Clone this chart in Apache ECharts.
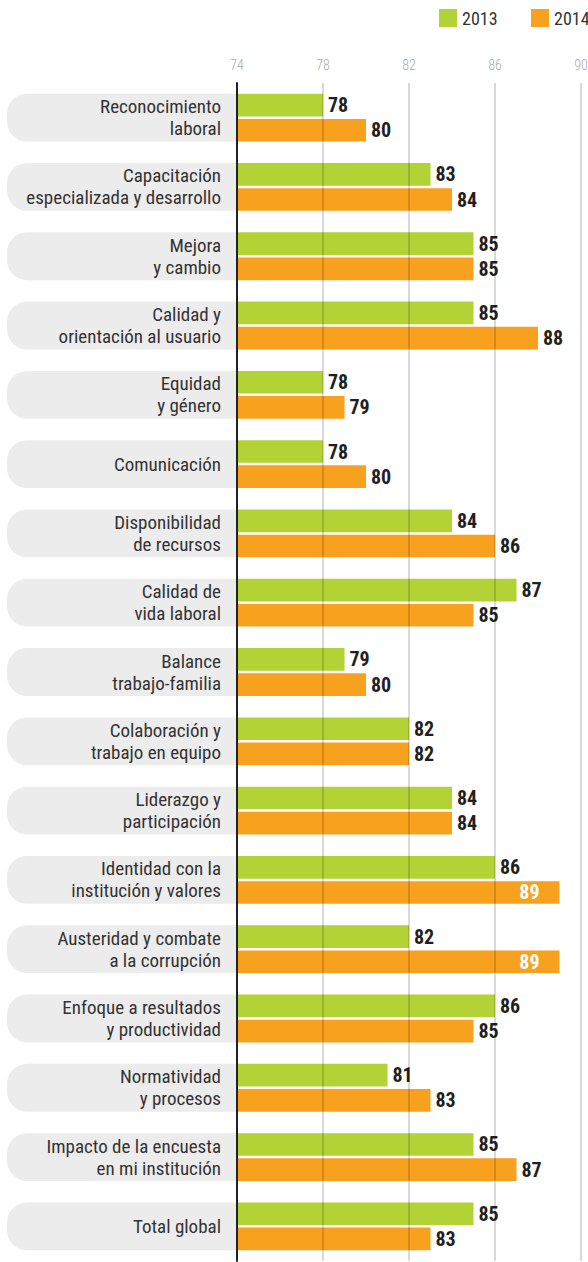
<!DOCTYPE html>
<html><head><meta charset="utf-8">
<script src="https://cdn.jsdelivr.net/npm/echarts@6/dist/echarts.min.js"></script>
<style>html,body{margin:0;padding:0;background:#fff}#c{width:588px;height:1262px}</style>
</head><body><div id="c"></div>
<script>
const categories = [
  "Reconocimiento\nlaboral", "Capacitación\nespecializada y desarrollo", "Mejora\ny cambio",
  "Calidad y\norientación al usuario", "Equidad\ny género", "Comunicación",
  "Disponibilidad\nde recursos", "Calidad de\nvida laboral", "Balance\ntrabajo-familia",
  "Colaboración y\ntrabajo en equipo", "Liderazgo y\nparticipación", "Identidad con la\ninstitución y valores",
  "Austeridad y combate\na la corrupción", "Enfoque a resultados\ny productividad", "Normatividad\ny procesos",
  "Impacto de la encuesta\nen mi institución", "Total global"
];
const values2013 = [78, 83, 85, 85, 78, 78, 84, 87, 79, 82, 84, 86, 82, 86, 81, 85, 85];
const values2014 = [80, 84, 85, 88, 79, 80, 86, 85, 80, 82, 84, 89, 89, 85, 83, 87, 83];
const seriesNames = ["2013", "2014"];
const axisMin = 74, axisMax = 90, axisStep = 4;

const FONT = '"Roboto Condensed", Roboto, sans-serif';
const GREEN = '#b2d235', ORANGE = '#f7a11e';

function barData(vals) {
  return vals.map(v => {
    if (v >= 89) {
      return { value: v, label: { position: 'insideRight', distance: 20, color: '#ffffff' } };
    }
    return v;
  });
}

const legendCommon = {
  top: 9, itemWidth: 18, itemHeight: 18, icon: 'rect', padding: 0,
  textStyle: { fontFamily: FONT, fontSize: 18, color: '#333' }
};

const chart = echarts.init(document.getElementById('c'), null, { renderer: 'svg' });
chart.setOption({
  animation: false,
  textStyle: { fontFamily: FONT },
  legend: [
    Object.assign({ left: 439, data: [seriesNames[0]] }, legendCommon),
    Object.assign({ left: 531, data: [seriesNames[1]] }, legendCommon)
  ],
  grid: { left: 237, right: 7, top: 83, bottom: 1, containLabel: false, outerBoundsMode: 'none' },
  xAxis: {
    type: 'value', position: 'top', min: axisMin, max: axisMax, interval: axisStep,
    z: 3,
    axisLine: { show: false }, axisTick: { show: false },
    axisLabel: { color: '#aaaaaa', fontSize: 14, fontWeight: 300, fontFamily: FONT, margin: 11 },
    splitLine: { show: true, lineStyle: { color: 'rgba(0,0,0,0.2)', width: 1.5 } }
  },
  yAxis: {
    type: 'category', inverse: true, data: categories, z: 5,
    axisLine: { show: true, lineStyle: { color: '#222', width: 2 } },
    axisTick: { show: false },
    axisLabel: { fontFamily: FONT, fontSize: 19, lineHeight: 22, color: '#333', margin: 16, align: 'right' }
  },
  series: [
    {
      type: 'custom', z: 1, silent: true, clip: false,
      data: categories.map((c, i) => [axisMin, i]),
      encode: { x: 0, y: 1 },
      renderItem: function (params, api) {
        const p = api.coord([axisMin, api.value(1)]);
        const bandH = api.size([0, 1])[1];
        const h = bandH * 0.69;
        const cs = params.coordSys;
        return {
          type: 'rect',
          shape: { x: 7, y: p[1] - h / 2, width: cs.x - 7, height: h, r: [20, 0, 0, 20] },
          style: { fill: '#ececec' }
        };
      }
    },
    {
      name: seriesNames[0], type: 'bar', data: barData(values2013), z: 2,
      barCategoryGap: '31%', barGap: '11%',
      itemStyle: { color: GREEN },
      label: { show: true, position: 'right', distance: 5, fontFamily: FONT, fontSize: 20, fontWeight: 'bold', color: '#231f20' }
    },
    {
      name: seriesNames[1], type: 'bar', data: barData(values2014), z: 2,
      barCategoryGap: '31%', barGap: '11%',
      itemStyle: { color: ORANGE },
      label: { show: true, position: 'right', distance: 5, fontFamily: FONT, fontSize: 20, fontWeight: 'bold', color: '#231f20' }
    }
  ]
});
</script></body></html>
